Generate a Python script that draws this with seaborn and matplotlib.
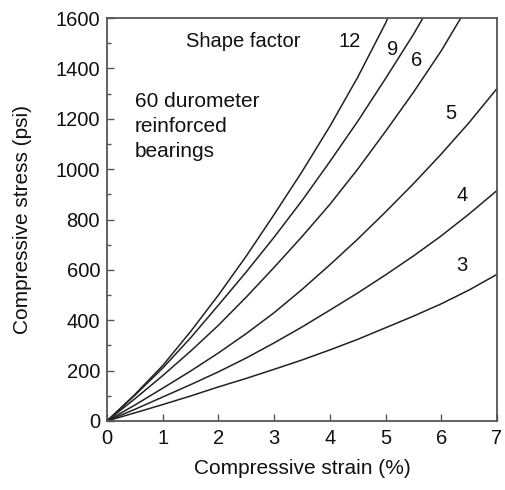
import pandas as pd
import matplotlib
matplotlib.use("Agg")
import matplotlib.pyplot as plt
import seaborn as sns
from matplotlib.ticker import MultipleLocator

# =========================
# DATA
# =========================

shape_factors = ["12", "9", "6", "5", "4", "3"]

strain_12 = [0, 0.5, 1, 1.5, 2, 2.5, 3, 3.5, 4, 4.5, 5, 5.04]
stress_12 = [0, 105, 220, 355, 500, 655, 820, 990, 1170, 1365, 1580, 1600]

strain_9 = [0, 0.5, 1, 1.5, 2, 2.5, 3, 3.5, 4, 4.5, 5, 5.5, 5.67]
stress_9 = [0, 102, 210, 330, 460, 592, 730, 875, 1030, 1190, 1360, 1535, 1600]

strain_6 = [0, 0.5, 1, 1.5, 2, 2.5, 3, 3.5, 4, 4.5, 5, 5.5, 6, 6.35]
stress_6 = [0, 88, 180, 277, 380, 492, 610, 732, 860, 1000, 1150, 1305, 1470, 1600]

strain_5 = [0, 0.5, 1, 1.5, 2, 2.5, 3, 3.5, 4, 4.5, 5, 5.5, 6, 6.5, 7]
stress_5 = [0, 63, 130, 198, 270, 347, 430, 522, 620, 722, 830, 942, 1060, 1185, 1320]

strain_4 = [0, 0.5, 1, 1.5, 2, 2.5, 3, 3.5, 4, 4.5, 5, 5.5, 6, 6.5, 7]
stress_4 = [0, 46, 95, 144, 195, 250, 310, 373, 440, 508, 580, 655, 735, 822, 915]

strain_3 = [0, 0.5, 1, 1.5, 2, 2.5, 3, 3.5, 4, 4.5, 5, 5.5, 6, 6.5, 7]
stress_3 = [0, 32, 65, 99, 135, 169, 205, 242, 282, 324, 370, 416, 465, 520, 582]

# label positions next to each curve
label_x = [4.35, 5.12, 5.55, 6.18, 6.37, 6.37]
label_y = [1509, 1477, 1430, 1220, 895, 618]

curves = [
    (strain_12, stress_12),
    (strain_9, stress_9),
    (strain_6, stress_6),
    (strain_5, stress_5),
    (strain_4, stress_4),
    (strain_3, stress_3),
]

frames = []
for sf, (xs, ys) in zip(shape_factors, curves):
    frames.append(pd.DataFrame({"strain": xs, "stress": ys, "sf": sf}))
df = pd.concat(frames, ignore_index=True)

# =========================
# PLOT
# =========================

sns.set_theme(style="ticks")
plt.rcParams["font.family"] = ["Liberation Sans", "DejaVu Sans"]

FS_TICK = 14.5
FS = 15

fig = plt.figure(figsize=(5.05, 4.9), dpi=100)
ax = fig.add_axes([0.212, 0.141, 0.772, 0.822])

sns.lineplot(
    data=df, x="strain", y="stress", hue="sf",
    palette=["#222222"] * len(shape_factors),
    linewidth=1.1, legend=False, sort=False, ax=ax,
)

ax.set_xlim(0, 7)
ax.set_ylim(0, 1600)
ax.xaxis.set_major_locator(MultipleLocator(1))
ax.yaxis.set_major_locator(MultipleLocator(200))
ax.yaxis.set_minor_locator(MultipleLocator(100))

for side in ["top", "right", "left", "bottom"]:
    ax.spines[side].set_visible(True)
    ax.spines[side].set_color("#555555")
    ax.spines[side].set_linewidth(1.3)

ax.tick_params(axis="both", which="major", direction="in", length=5,
               width=1, color="#555555", labelsize=FS_TICK, pad=5,
               labelcolor="#111111")
ax.tick_params(axis="x", which="major", pad=6)
ax.tick_params(axis="y", which="minor", direction="in", length=3,
               width=1, color="#555555")

ax.set_xlabel("Compressive strain (%)", fontsize=FS, color="#111111", labelpad=8)
ax.set_ylabel("Compressive stress (psi)", fontsize=FS, color="#111111", labelpad=17)

ax.text(1.42, 1509, "Shape factor", fontsize=FS_TICK, va="center", ha="left", color="#111111")
for sf, lx, ly in zip(shape_factors, label_x, label_y):
    ax.text(lx, ly, sf, fontsize=FS_TICK, va="center", ha="center", color="#111111")

ax.text(0.5, 1308, "60 durometer\nreinforced\nbearings", fontsize=FS,
        va="top", ha="left", color="#111111", linespacing=1.42)

fig.savefig("out.png", dpi=100)
plt.close(fig)
